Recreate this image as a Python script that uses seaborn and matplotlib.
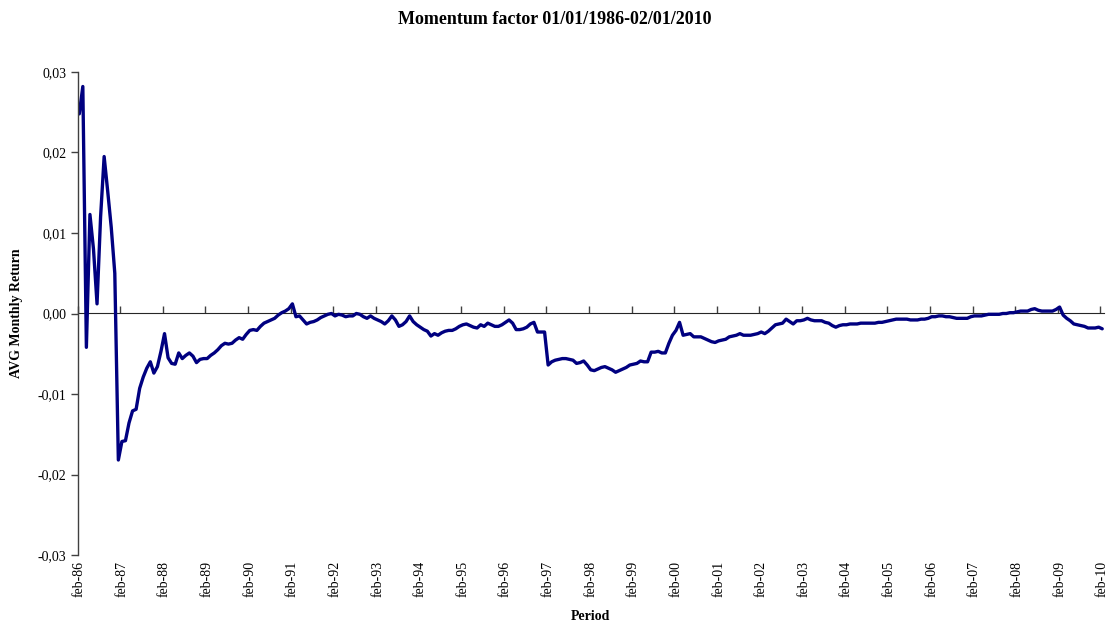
import numpy as np
import pandas as pd
import matplotlib
matplotlib.use("Agg")
import matplotlib.pyplot as plt
import seaborn as sns
from matplotlib.ticker import FuncFormatter, FixedLocator, NullFormatter

# ---- data (monthly average momentum return, feb-86 .. feb-10) ----
values = [
    0.0248, 0.0282, -0.0042, 0.0123, 0.0080, 0.0012, 0.0120, 0.0195, 0.0152, 0.0107,
    0.0050, -0.0182, -0.0159, -0.0158, -0.0136, -0.0121, -0.0119, -0.0093, -0.0079, -0.0068,
    -0.0060, -0.0074, -0.0066, -0.0047, -0.0025, -0.0055, -0.0062, -0.0063, -0.0049, -0.0056,
    -0.0052, -0.0049, -0.0053, -0.0061, -0.0057, -0.0056, -0.0056, -0.0052, -0.0049, -0.0045,
    -0.0040, -0.0037, -0.0038, -0.0037, -0.0033, -0.0030, -0.0032, -0.0026, -0.0021, -0.0020,
    -0.0021, -0.0016, -0.0012, -0.0010, -0.0008, -0.0006, -0.0002, 0.0001, 0.0003, 0.0006,
    0.0012, -0.0004, -0.0003, -0.0008, -0.0013, -0.0011, -0.0010, -0.0008, -0.0005, -0.0003,
    -0.0001, 0.0000, -0.0003, -0.0001, -0.0002, -0.0004, -0.0003, -0.0003, 0.0000, -0.0001,
    -0.0004, -0.0006, -0.0003, -0.0006, -0.0008, -0.0010, -0.0013, -0.0009, -0.0003, -0.0008,
    -0.0016, -0.0014, -0.0010, -0.0003, -0.0010, -0.0014, -0.0017, -0.0020, -0.0022, -0.0028,
    -0.0025, -0.0027, -0.0024, -0.0022, -0.0021, -0.0021, -0.0019, -0.0016, -0.0014, -0.0013,
    -0.0015, -0.0017, -0.0018, -0.0014, -0.0016, -0.0012, -0.0014, -0.0016, -0.0016, -0.0014,
    -0.0011, -0.0008, -0.0012, -0.0020, -0.0020, -0.0019, -0.0017, -0.0013, -0.0011, -0.0023,
    -0.0023, -0.0023, -0.0064, -0.0060, -0.0058, -0.0057, -0.0056, -0.0056, -0.0057, -0.0058,
    -0.0062, -0.0061, -0.0059, -0.0064, -0.0070, -0.0071, -0.0069, -0.0067, -0.0066, -0.0068,
    -0.0070, -0.0073, -0.0071, -0.0069, -0.0067, -0.0064, -0.0063, -0.0062, -0.0059, -0.0060,
    -0.0060, -0.0048, -0.0048, -0.0047, -0.0049, -0.0049, -0.0037, -0.0027, -0.0021, -0.0011,
    -0.0027, -0.0026, -0.0025, -0.0029, -0.0029, -0.0029, -0.0031, -0.0033, -0.0035, -0.0036,
    -0.0034, -0.0033, -0.0032, -0.0029, -0.0028, -0.0027, -0.0025, -0.0027, -0.0027, -0.0027,
    -0.0026, -0.0025, -0.0023, -0.0025, -0.0022, -0.0018, -0.0014, -0.0013, -0.0012, -0.0007,
    -0.0010, -0.0013, -0.0009, -0.0009, -0.0008, -0.0006, -0.0008, -0.0009, -0.0009, -0.0009,
    -0.0011, -0.0012, -0.0015, -0.0017, -0.0015, -0.0014, -0.0014, -0.0013, -0.0013, -0.0013,
    -0.0012, -0.0012, -0.0012, -0.0012, -0.0012, -0.0011, -0.0011, -0.0010, -0.0009, -0.0008,
    -0.0007, -0.0007, -0.0007, -0.0007, -0.0008, -0.0008, -0.0008, -0.0007, -0.0007, -0.0006,
    -0.0004, -0.0004, -0.0003, -0.0003, -0.0004, -0.0004, -0.0005, -0.0006, -0.0006, -0.0006,
    -0.0006, -0.0004, -0.0003, -0.0003, -0.0003, -0.0002, -0.0001, -0.0001, -0.0001, -0.0001,
    0.0000, 0.0000, 0.0001, 0.0001, 0.0002, 0.0003, 0.0003, 0.0003, 0.0005, 0.0006,
    0.0004, 0.0003, 0.0003, 0.0003, 0.0003, 0.0005, 0.0008, -0.0002, -0.0006, -0.0009,
    -0.0013, -0.0014, -0.0015, -0.0016, -0.0018, -0.0018, -0.0018, -0.0017, -0.0019,
]
year_labels = ["feb-86", "feb-87", "feb-88", "feb-89", "feb-90", "feb-91", "feb-92",
               "feb-93", "feb-94", "feb-95", "feb-96", "feb-97", "feb-98", "feb-99",
               "feb-00", "feb-01", "feb-02", "feb-03", "feb-04", "feb-05", "feb-06",
               "feb-07", "feb-08", "feb-09", "feb-10"]
y_ticks = [-0.03, -0.02, -0.01, 0.0, 0.01, 0.02, 0.03]

df = pd.DataFrame({"month": np.arange(len(values)), "ret": values})

sns.set_style("white")
plt.rcParams["font.family"] = ["Liberation Serif", "DejaVu Serif"]
plt.rcParams["text.color"] = "black"
plt.rcParams["axes.labelcolor"] = "black"

W, H = 1108, 623
fig = plt.figure(figsize=(W / 100, H / 100), dpi=100)
ax = fig.add_axes([77.5 / W, 1 - 555 / H, (1104 - 77.5) / W, (555 - 72) / H])

sns.lineplot(data=df, x="month", y="ret", ax=ax, color="#000080", linewidth=2.4)

n = len(values)
ax.set_xlim(-0.5, n - 0.5)
ax.set_ylim(-0.03, 0.03)

# y axis
ax.yaxis.set_major_locator(FixedLocator(y_ticks))
ax.yaxis.set_major_formatter(FuncFormatter(lambda v, p: f"{v:.2f}".replace(".", ",").replace("-0,00", "0,00")))
ax.tick_params(axis="y", direction="out", length=5, width=1, color="#404040",
               labelcolor="black", labelsize=10, pad=3, left=True)
ax.set_ylabel("")
for s in ["top", "right", "bottom"]:
    ax.spines[s].set_visible(False)
ax.spines["left"].set_color("#404040")
ax.spines["left"].set_linewidth(1)

# x labels at bottom (no tick marks)
label_pos = np.arange(0, n, 12)
ax.xaxis.set_major_locator(FixedLocator(label_pos))
ax.set_xticklabels(year_labels, rotation=90, fontsize=10, color="black")
ax.tick_params(axis="x", length=0, pad=4, bottom=True)
ax.set_xlabel("")

# zero line axis with tick marks at category boundaries
sec = ax.secondary_xaxis(0.5)
sec.spines["bottom"].set_color("#808080")
sec.spines["bottom"].set_linewidth(1.2)
sec.xaxis.set_major_locator(FixedLocator(np.arange(0, n + 1, 12) - 0.5))
sec.xaxis.set_major_formatter(NullFormatter())
sec.tick_params(axis="x", direction="out", length=5, width=1, color="#404040",
                labelbottom=False, labeltop=False)

fig.text(555 / W, 1 - 20 / H, "Momentum factor 01/01/1986-02/01/2010",
         ha="center", va="center", fontsize=13, fontweight="bold")
fig.text(590 / W, 1 - 617 / H, "Period", ha="center", va="center",
         fontsize=10, fontweight="bold")
fig.text(17 / W, 1 - 313 / H, "AVG Monthly Return", ha="center", va="center",
         rotation=90, fontsize=10, fontweight="bold")

fig.savefig("out.png", dpi=100)
